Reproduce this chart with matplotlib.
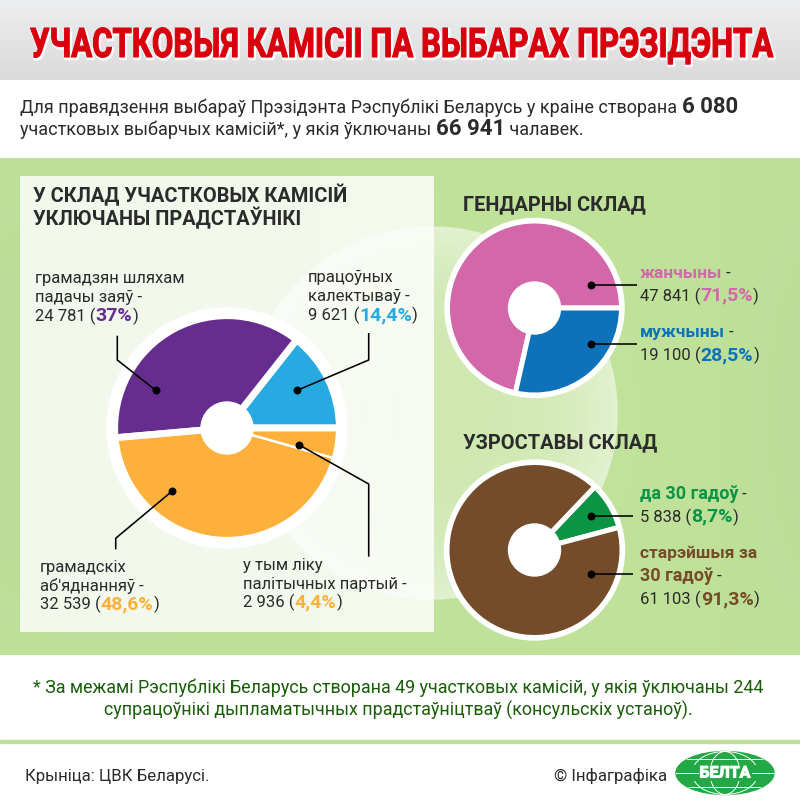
import numpy as np
import matplotlib.pyplot as plt
import matplotlib.patheffects as pe
from matplotlib.colors import LinearSegmentedColormap
from matplotlib.patches import Circle, Ellipse, Rectangle
from matplotlib.transforms import Affine2D


# Values from the picture
main_values = [9621, 24781, 32539]  # public bodies include parties
main_split = [9621, 24781, 29603, 2936]
main_colors = ["#27aae1", "#652d8d", "#fdb03b"]
gender_values = [47841, 19100]
gender_colors = ["#d268a9", "#0e72bb"]
age_values = [5838, 61103]
age_colors = ["#0b9444", "#754c29"]

W, H = 800, 807
dark = "#2b2b2b"
body_font = "Roboto"


class TallTitle(pe.AbstractPathEffect):
    # No narrow font here, so the title glyphs are stretched upward from the baseline
    def draw_path(self, renderer, gc, tpath, affine, rgbFace=None):
        tall = affine + Affine2D().translate(0, 57 - H).scale(1, 1.31).translate(0, H - 57)
        back = renderer.new_gc()
        back.copy_properties(gc)
        back.set_foreground("white")
        back.set_linewidth(2.5)
        renderer.draw_path(back, tpath, tall + Affine2D().translate(1, -1.5), (1, 1, 1, 1))
        front = renderer.new_gc()
        front.copy_properties(gc)
        front.set_foreground("#d8000c")
        front.set_linewidth(0.8)
        renderer.draw_path(front, tpath, tall, rgbFace)


fig = plt.figure(figsize=(8, 8.07), dpi=100)
ax = fig.add_axes([0, 0, 1, 1])

# Backgrounds
ax.add_patch(Rectangle((0, 0), W, H, color="white", zorder=0))
grey = np.linspace(0, 1, 80).reshape(-1, 1)
ax.imshow(grey, extent=(0, W, H - 80, H), cmap=LinearSegmentedColormap.from_list("g", ["#dbdbdc", "#ecedee"]),
          aspect="auto", zorder=1, origin="lower")
xx, yy = np.meshgrid(np.linspace(0, W, 200), np.linspace(158, 655, 150))
mottle = 0.5 + 0.5 * np.cos((xx - 520) / 130) * np.cos((yy - 400) / 170)
green = np.zeros(xx.shape + (3,))
for i, (a, b) in enumerate(zip((0xb9, 0xde, 0x98), (0xc3, 0xe3, 0x9b))):
    green[:, :, i] = (a + (b - a) * mottle) / 255
ax.imshow(green[::-1], extent=(0, W, H - 655, H - 158), aspect="auto", zorder=1)
ax.add_patch(Rectangle((0, H - 743), W, 3.5, color="#bfe09a", zorder=1))

# Big pale glow behind the charts
gx, gy = np.meshgrid(np.linspace(431 - 187, 431 + 187, 800), np.linspace(413 - 187, 413 + 187, 800))
dist = np.hypot(gx - 431, gy - 413) / 187
glow = np.ones(gx.shape + (4,))
glow[:, :, 3] = np.where(dist < 1, 0.22 + 0.33 * dist ** 3, 0)
ax.imshow(glow[::-1], extent=(431 - 187, 431 + 187, H - 413 - 187, H - 413 + 187), aspect="auto", zorder=2)

# Panel
ax.add_patch(Rectangle((20, H - 632), 414, 456, color="white", alpha=0.82, lw=0, zorder=3))

# Main pie
ax.add_patch(Circle((227, H - 428), 120, color="white", zorder=4))
ax.pie(main_values, colors=main_colors, startangle=0, counterclock=True, center=(227, H - 428), radius=113.5, frame=True,
       wedgeprops=dict(edgecolor="white", linewidth=5.0, zorder=5))
ax.pie(main_split, colors=["none"] * 4, startangle=0, center=(227, H - 428), radius=110, frame=True,
       wedgeprops=dict(edgecolor="white", linewidth=1.6, zorder=5))
ax.add_patch(Circle((227, H - 428), 26, color="white", zorder=6))

# Gender pie
ax.add_patch(Circle((534.5, H - 308), 89.5, color="white", zorder=4))
ax.pie(gender_values, colors=gender_colors, startangle=0, center=(534.5, H - 308), radius=87, frame=True,
       wedgeprops=dict(edgecolor="white", linewidth=3.6, zorder=5))
ax.add_patch(Circle((534.5, H - 308), 26, color="white", zorder=6))

# Age pie
ax.add_patch(Circle((534.5, H - 550), 90, color="white", zorder=4))
ax.pie(age_values, colors=age_colors, startangle=15, center=(534.5, H - 550), radius=87.5, frame=True,
       wedgeprops=dict(edgecolor="white", linewidth=3.6, zorder=5))
ax.add_patch(Circle((534.5, H - 550), 26, color="white", zorder=6))

# Leader lines with a dot at the pie end
leaders = [
    [(117.3, 335.7), (117.3, 360), (155.7, 390.3)],
    [(368.7, 333), (368.7, 360), (297.3, 390.3)],
    [(115.7, 549.3), (115.7, 538.3), (172.3, 491)],
    [(368.7, 556.7), (368.7, 484), (299.3, 445)],
    [(636.7, 285), (590.7, 285)],
    [(636.7, 343.7), (590.7, 343.7)],
    [(633.3, 516), (590.7, 516)],
    [(633.3, 574.3), (590.7, 574.3)],
]
for line in leaders:
    xs = [p[0] for p in line]
    ys = [H - p[1] for p in line]
    ax.plot(xs, ys, color="black", lw=1.15, zorder=7, solid_capstyle="butt")
    ax.plot(xs[-1], ys[-1], "o", color="black", ms=5.7, mew=0, zorder=8)

ax.set_xlim(0, W)
ax.set_ylim(0, H)
ax.set_aspect("auto")
ax.axis("off")

# Title and plain text
ax.text(401.5, H - 57, "УЧАСТКОВЫЯ КАМІСІІ ПА ВЫБАРАХ ПРЭЗІДЭНТА", family=body_font, weight="bold",
        fontsize=22.4, color="#d8000c", ha="center", va="baseline", zorder=9, path_effects=[TallTitle()])
ax.text(32.7, H - 202, "У СКЛАД УЧАСТКОВЫХ КАМІСІЙ", family=body_font, weight="bold", fontsize=14.4, color=dark, zorder=9)
ax.text(32.7, H - 225, "УКЛЮЧАНЫ ПРАДСТАЎНІКІ", family=body_font, weight="bold", fontsize=14.4, color=dark, zorder=9)
ax.text(463.3, H - 210, "ГЕНДАРНЫ СКЛАД", family=body_font, weight="bold", fontsize=14.4, color=dark, zorder=9)
ax.text(463.3, H - 448, "УЗРОСТАВЫ СКЛАД", family=body_font, weight="bold", fontsize=14.4, color=dark, zorder=9)
ax.text(398, H - 692.7, "* За межамі Рэспублікі Беларусь створана 49 участковых камісій, у якія ўключаны 244",
        family=body_font, fontsize=12.9, color="#1a5e0a", ha="center", zorder=9)
ax.text(398, H - 716, "супрацоўнікі дыпламатычных прадстаўніцтваў (консульскіх устаноў).",
        family=body_font, fontsize=12.9, color="#1a5e0a", ha="center", zorder=9)
ax.text(25, H - 780.7, "Крыніца: ЦВК Беларусі.", family=body_font, fontsize=12.1, color=dark, zorder=9)
ax.text(553.6, H - 780.7, "© Інфаграфіка", family=body_font, fontsize=12.2, color=dark, zorder=9)

# Lines built from runs of text, each run placed after the one before it
runs = [
    (20, 113, [("Для правядзення выбараў Прэзідэнта Рэспублікі Беларусь у краіне створана ", dark, "normal", 13), ("6 080", dark, "bold", 16)]),
    (20, 135, [("участковых выбарчых камісій*, у якія ўключаны ", dark, "normal", 13), ("66 941", dark, "bold", 16), (" чалавек.", dark, "normal", 13)]),
    (35, 283, [("грамадзян шляхам", dark, "normal", 12)]),
    (35, 302, [("падачы заяў -", dark, "normal", 12)]),
    (35, 320.7, [("24 781 (", dark, "normal", 12), ("37%", "#652d8d", "bold", 14), (")", dark, "normal", 12)]),
    (307.7, 282, [("працоўных", dark, "normal", 12)]),
    (307.7, 300.7, [("калектываў -", dark, "normal", 12)]),
    (307.7, 320, [("9 621 (", dark, "normal", 12), ("14,4%", "#27aae1", "bold", 14), (")", dark, "normal", 12)]),
    (40, 571.7, [("грамадскіх", dark, "normal", 12)]),
    (40, 590.7, [("аб'яднанняў -", dark, "normal", 12)]),
    (40, 609.3, [("32 539 (", dark, "normal", 12), ("48,6%", "#fdb03b", "bold", 14), (")", dark, "normal", 12)]),
    (243.3, 570, [("у тым ліку", dark, "normal", 12)]),
    (243.3, 589, [("палітычных партый -", dark, "normal", 12)]),
    (243.3, 607.3, [("2 936 (", dark, "normal", 12), ("4,4%", "#fdb03b", "bold", 14), (")", dark, "normal", 12)]),
    (640, 277.7, [("жанчыны", "#d268a9", "bold", 12.5), (" -", dark, "normal", 12)]),
    (640, 300.7, [("47 841 (", dark, "normal", 12), ("71,5%", "#d268a9", "bold", 14), (")", dark, "normal", 12)]),
    (640, 336.7, [("мужчыны", "#0e72bb", "bold", 12.5), (" -", dark, "normal", 12)]),
    (640, 360, [("19 100 (", dark, "normal", 12), ("28,5%", "#0e72bb", "bold", 14), (")", dark, "normal", 12)]),
    (640, 499.3, [("да 30 гадоў", "#0b9444", "bold", 13), (" -", dark, "normal", 12)]),
    (640, 521.7, [("5 838 (", dark, "normal", 12), ("8,7%", "#0b9444", "bold", 14), (")", dark, "normal", 12)]),
    (640, 558.3, [("старэйшыя за", "#754c29", "bold", 12.5)]),
    (640, 580.7, [("30 гадоў", "#754c29", "bold", 13), (" -", dark, "normal", 12)]),
    (640, 604, [("61 103 (", dark, "normal", 12), ("91,3%", "#754c29", "bold", 14), (")", dark, "normal", 12)]),
]
renderer = fig.canvas.get_renderer()
for x, y, parts in runs:
    for part, color, weight, size in parts:
        t = ax.text(x, H - y, part.replace(" ", "\u00a0"), family=body_font, fontsize=size, color=color, weight=weight, zorder=9)
        x += t.get_window_extent(renderer).width

# Logo
logo = Ellipse((725, H - 773), 98, 43, color="#22a845", zorder=9)
ax.add_patch(logo)
for width in (30, 66):
    ax.add_patch(Ellipse((725, H - 773), width, 43, fill=False, edgecolor="white", lw=0.7, zorder=10))
for drop in (-14, 14):
    ax.plot([676, 774], [H - 773 + drop] * 2, color="white", lw=0.7, zorder=10)[0].set_clip_path(logo)
band = Rectangle((676, H - 781), 98, 16, color="#22a845", lw=0, zorder=10)
ax.add_patch(band)
band.set_clip_path(logo)
ax.plot([676, 698], [H - 773] * 2, color="white", lw=0.7, zorder=10)
ax.plot([752, 774], [H - 773] * 2, color="white", lw=0.7, zorder=10)
ax.text(725, H - 773, "БЕЛТА", family=body_font, weight="bold", fontsize=11.5, color="white", ha="center", va="center", zorder=11,
        path_effects=[pe.withStroke(linewidth=0.8, foreground="white")])

fig.savefig("out.png", dpi=100)
